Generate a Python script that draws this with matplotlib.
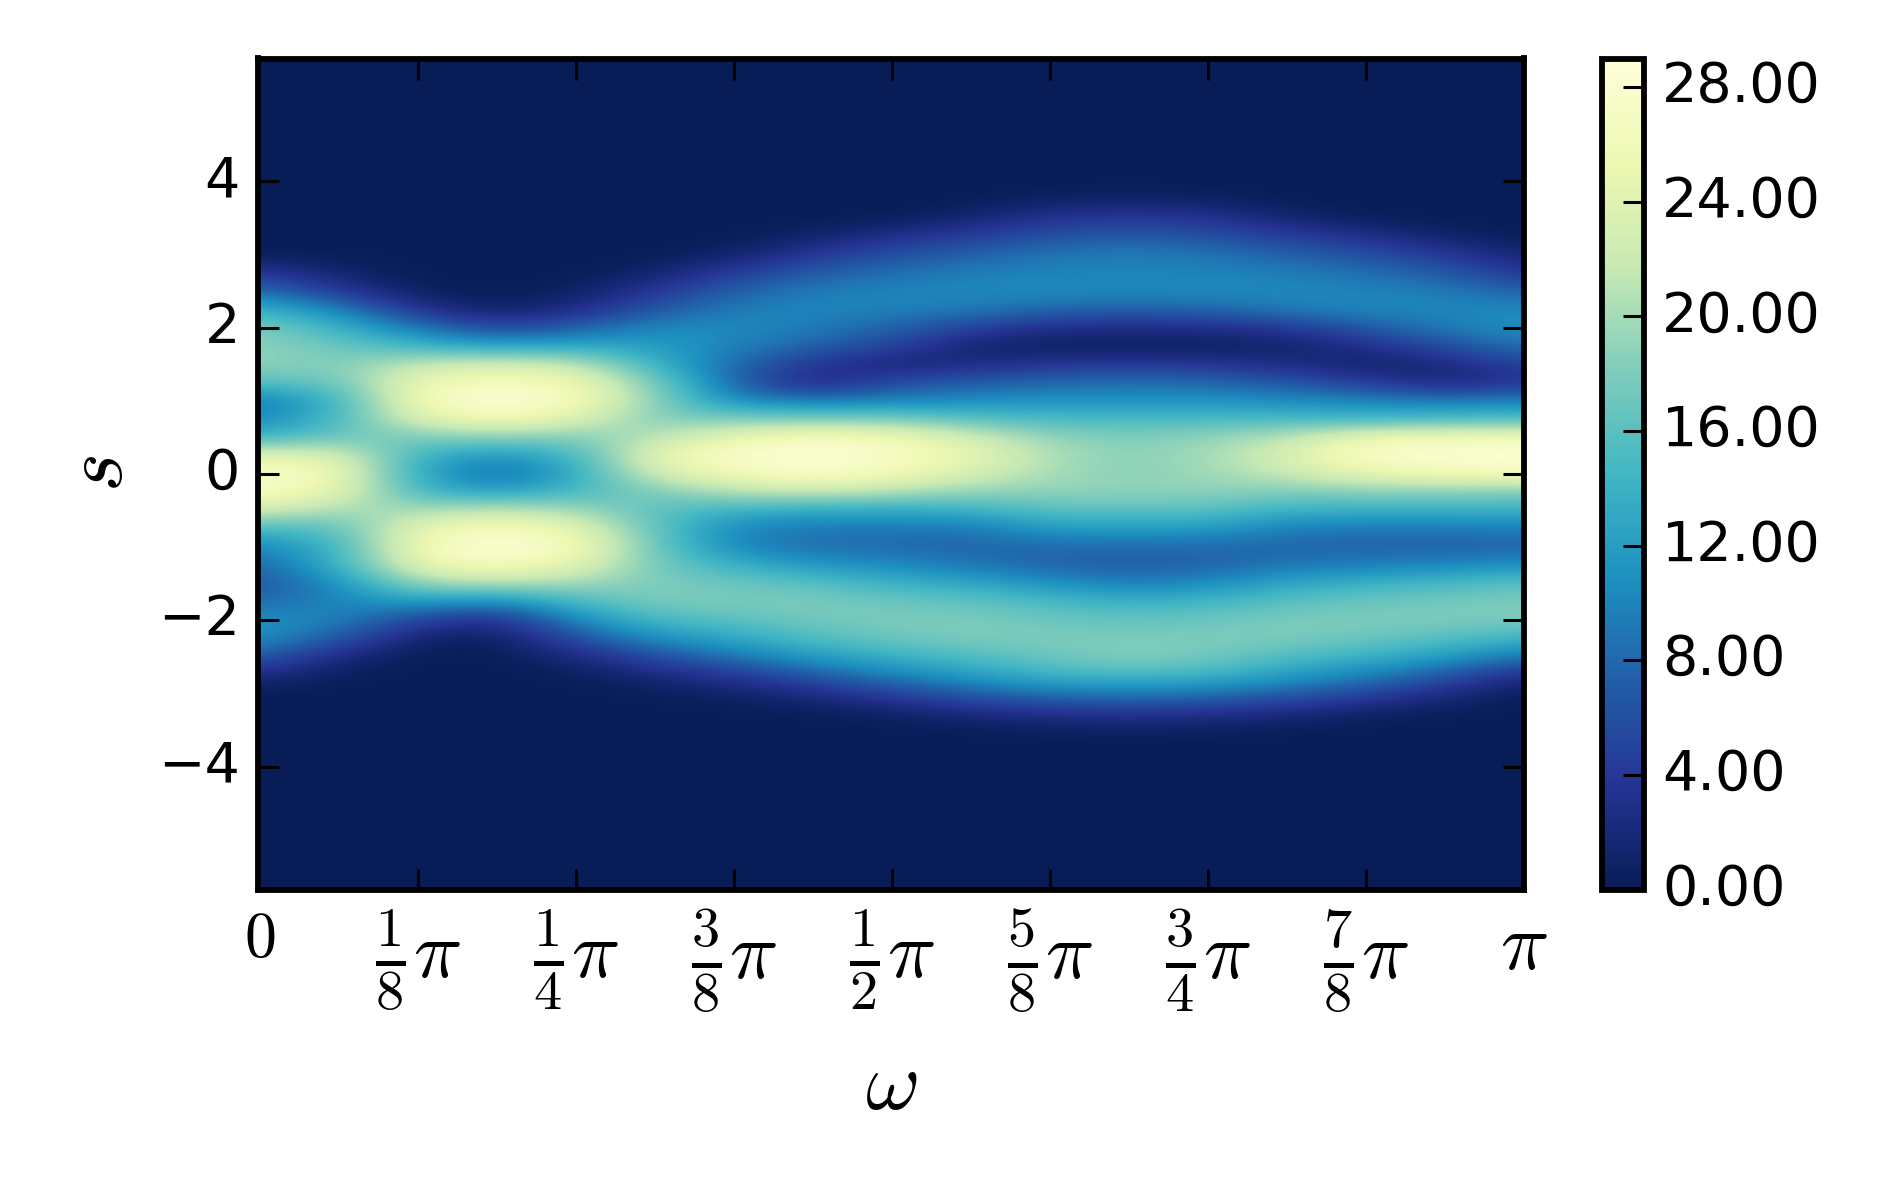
import numpy as np
import matplotlib
matplotlib.use('Agg')
import matplotlib.pyplot as plt

plt.rcParams['mathtext.fontset'] = 'cm'
plt.rcParams['font.family'] = 'DejaVu Sans'
plt.rcParams['ytick.alignment'] = 'center'

# s rows, top to bottom
s_values = [4.25, 4.0,
            3.75, 3.5, 3.25, 3.0,
            2.75, 2.5, 2.25, 2.0,
            1.75, 1.5, 1.25, 1.0,
            0.75, 0.5, 0.25, 0.0,
            -0.25, -0.5, -0.75, -1.0,
            -1.25, -1.5, -1.75, -2.0,
            -2.25, -2.5, -2.75, -3.0,
            -3.25, -3.5, -3.75]

# one column per pi/16
col_00 = [0,0, 0,0,0,0, 4,8.5,14,18, 19,19,16,9, 10,14,24,28, 27,23,15,10, 7.5,6.5,8,11, 11,7.5,2.5,0, 0,0,0]
col_01 = [0,0, 0,0,0,0.2, 1,4,10,14, 17,18,17,14, 15,17,24,26, 25,20,16,14, 14,10.5,10,10, 7,2,0.3,0, 0,0,0]
col_02 = [0,0, 0,0,0,0, 0,0.3,3,9, 14,22,25.5,26.5, 24,18,14,13, 14.5,20,25,26.5, 25,20,12,5, 1,0,0,0, 0,0,0]
col_03 = [0,0, 0,0,0,0, 0,0,0.5,5, 12,23,27,29, 26.5,19,11,7.5, 12,22,27,29, 27,21,10,2.5, 0.3,0,0,0, 0,0,0]
col_04 = [0,0, 0,0,0,0, 0,0.5,2.5,7, 13,22,26,27, 24,18,14.5,13, 15,20,25,27, 24.5,20,15,10.5, 6,2,0.3,0, 0,0,0]
col_05 = [0,0, 0,0,0,0, 1,4,6.5,10.5, 12,14,18,19, 18,21,25,23, 18,16,16.5,17, 17.5,18,18,15, 11,6,2,0.3, 0,0,0]
col_06 = [0,0, 0,0,0,1, 4.5,7.5,9.5,10.5, 10,8,7.5,10, 18,25,28,26, 21,14,10,10, 14,17,18,16, 13,9,4,1, 0.1,0,0]
col_07 = [0,0, 0,0,1,4, 7,9.5,10,9.5, 7.5,4,1.5,9, 18,27,29,28, 22,13,9,8.5, 11.5,16,18,17.5, 15.5,12,7,2.5, 0.3,0,0]
col_08 = [0,0, 0,0,3,6, 8.5,10,10,7.5, 5.5,1,6,9.5, 18,26,27.5,26, 21,13,9,8, 10.5,14,17,18, 17,14,10,5, 1,0,0]
col_09 = [0,0, 0,1.5,4.5,7.5, 9.5,10.5,9.5,5, 1,2.5,7,10.5, 16,23,25,23.5, 19,14,9,7.7, 9,13,16.5,18, 18,15.5,12,7.5, 2.5,0.2,0]
col_10 = [0,0, 0.7,3.5,6,9, 10,10.5,8,3, 0.3,3.5,8,11, 15,19,20.5,20, 19,16,12,8, 7.5,11,15,17, 18,17,14.5,9, 3.5,0.5,0]
col_11 = [0,0, 1,4,7,9.5, 10,10.5,7.5,2.5, 0.3,4,8.5,11, 15,18,18.5,18.5, 19,16,12,8, 7.2,9.5,14,16.5, 18,18.5,15,9.5, 4,0.8,0]
col_12 = [0,0, 0.7,3.5,6,9, 10,10.5,8,3, 0.3,3.5,8,11, 15,19,20,19.5, 19,16,12,8, 7.5,10.5,14.5,17, 18,17.5,14.5,9, 3.5,0.5,0]
col_13 = [0,0, 0,1.5,4.5,7.5, 9.5,10.5,9.5,4, 0.8,2.5,6.5,10.5, 15,21,23.5,22, 18,14,9.5,7.7, 9,13,16,18, 18,15.5,12,7.5, 2.5,0.2,0]
col_14 = [0,0, 0,0.1,3,6, 8.5,10,10.5,7, 3,0.7,4.5,10, 14,26,28,25, 18.5,14,9,7.5, 9.5,14,17,18, 17,14,10,5.5, 1,0,0]
col_15 = [0,0, 0,0,1,4, 7,9.5,10,9.5, 6,2,1.5,9, 15,26,28.5,26, 18.5,14,9,7.5, 10,15,17.5,18, 16,12,7,2.5, 0.3,0,0]
col_16 = [0,0, 0,0,0,1.5, 3.5,7.5,10.5,11, 9,5,3.5,10, 15,26.5,29,27, 18,14,9.5,7.5, 11,16,18,18, 14,9,2.5,0, 0,0,0]

columns = [col_00, col_01, col_02, col_03, col_04, col_05, col_06, col_07, col_08,
           col_09, col_10, col_11, col_12, col_13, col_14, col_15, col_16]

s_limit = 5.68
vmax = 29.0

x_ticks_frac = [0, 1/8, 1/4, 3/8, 1/2, 5/8, 3/4, 7/8, 1]
x_tick_labels = [r'$0$', r'$\frac{1}{8}\pi$', r'$\frac{1}{4}\pi$', r'$\frac{3}{8}\pi$', r'$\frac{1}{2}\pi$',
                 r'$\frac{5}{8}\pi$', r'$\frac{3}{4}\pi$', r'$\frac{7}{8}\pi$', r'$\pi$']
y_ticks = [-4, -2, 0, 2, 4]
cbar_ticks = [0, 4, 8, 12, 16, 20, 24, 28]

Z = np.column_stack(columns)
# empty rows above and below the table, up to the axis limits
Z = np.pad(Z, ((7, 8), (0, 0)))
d_omega = np.pi / (len(columns) - 1)
d_s = 0.25
s_top = s_values[0] + 7 * d_s
s_bottom = s_values[-1] - 8 * d_s

fig = plt.figure(figsize=(9.5, 6), dpi=200)
ax = fig.add_axes([258/1900, 1 - 889.5/1200, 1266/1900, 831/1200])
im = ax.imshow(Z, aspect='auto', cmap='YlGnBu_r', vmin=0, vmax=vmax, interpolation='bicubic',
               extent=[-d_omega/2, np.pi + d_omega/2, s_bottom - d_s/2, s_top + d_s/2])

ax.set_xlim(-0.004, np.pi)
ax.set_ylim(-s_limit, s_limit)
ax.set_xticks([f * np.pi for f in x_ticks_frac])
ax.set_xticklabels(x_tick_labels, fontsize=29)
ax.get_xticklabels()[0].set_fontsize(23)
ax.set_yticks(y_ticks)
ax.tick_params(axis='both', direction='in', top=True, right=True, length=7.5, width=1.1)
ax.tick_params(axis='y', labelsize=20, pad=6.5)
ax.tick_params(axis='x', pad=6.5)
first_tick = ax.xaxis.get_major_ticks()[0]
first_tick.tick1line.set_visible(False)
first_tick.tick2line.set_visible(False)
for spine in ax.spines.values():
    spine.set_linewidth(2.1)
ax.set_xlabel(r'$\omega$', fontsize=30, labelpad=11)
ax.set_ylabel(r'$s$', fontsize=30, labelpad=7)

cax = fig.add_axes([1602/1900, 1 - 889.5/1200, 42/1900, 831/1200])
cbar = fig.colorbar(im, cax=cax, ticks=cbar_ticks, format='%.2f')
cbar.outline.set_linewidth(2.1)
cax.tick_params(direction='in', length=7.5, width=1.1, labelsize=20, pad=6.5)

fig.savefig('out.png', dpi=200)
